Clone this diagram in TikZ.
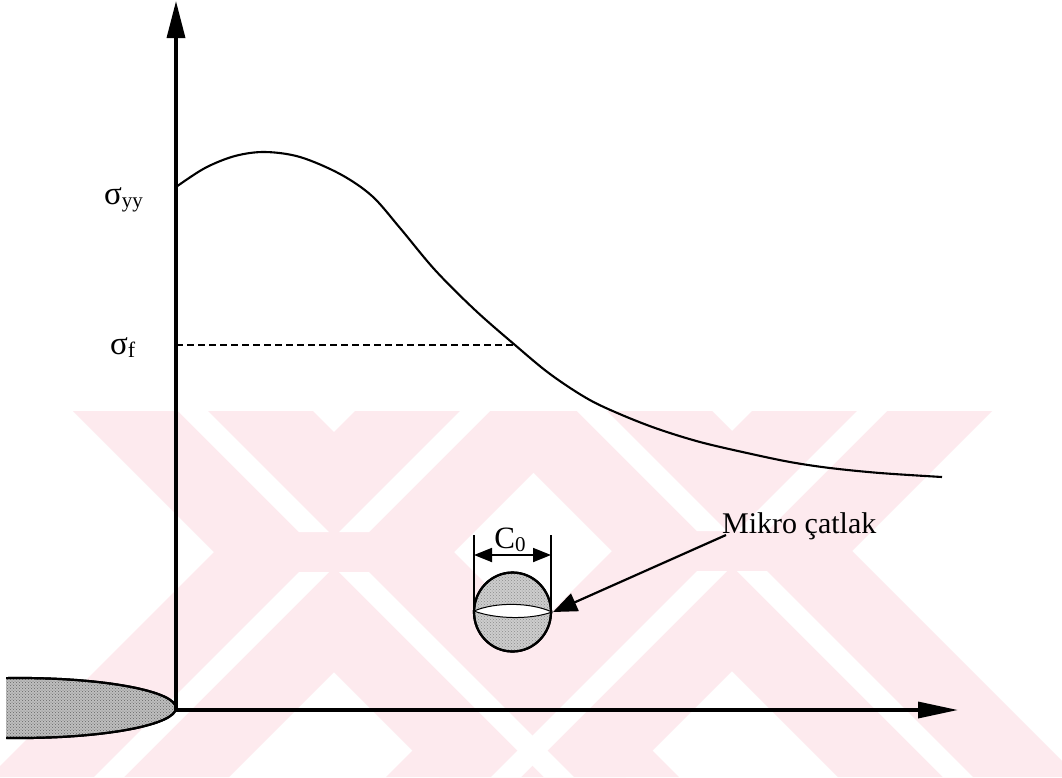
\documentclass[tikz,border=0pt]{standalone}
\usepackage{fontspec}
\setmainfont{Liberation Serif}
\usetikzlibrary{arrows.meta,patterns}
\definecolor{wm}{RGB}{253,234,238}
\definecolor{stipA}{RGB}{190,190,190}
\definecolor{stipB}{RGB}{205,205,205}
\begin{document}
\begin{tikzpicture}[x=1pt,y=-1pt,
  axisline/.style={line width=3.4pt},
  curveline/.style={line width=2.1pt, line join=round},
  dimline/.style={line width=1.8pt},
  ptr/.style={line width=2.2pt, -{Triangle[length=24pt,width=19pt]}},
  dimarrow/.style={line width=1.8pt, {Triangle[length=18pt,width=14pt]}-{Triangle[length=18pt,width=14pt]}},
  lbl/.style={inner sep=0pt, font=\fontsize{30}{32}\selectfont},
  siglbl/.style={inner sep=0pt, font=\fontsize{33}{35}\selectfont},
  stippleA/.style={preaction={fill=stipA}, pattern=crosshatch dots, pattern color=black!60},
  stippleB/.style={preaction={fill=stipB}, pattern=crosshatch dots, pattern color=black!45},
  wmband/.style={fill=wm},
  wmgap/.style={fill=white}]
\useasboundingbox (0,0) rectangle (1062,777);
\fill[white] (0,0) rectangle (1062,777);
% watermark
\begin{scope}
\clip (0,411) rectangle (1062,777);
\fill[wmband] (73,411) -- (313,411) -- (679,777) -- (439,777) -- cycle;
\fill[wmband] (355,411) -- (595,411) -- (229,777) -- (-11,777) -- cycle;
\fill[wmband] (472,411) -- (712,411) -- (1078,777) -- (838,777) -- cycle;
\fill[wmband] (752,411) -- (992,411) -- (626,777) -- (386,777) -- cycle;
\fill[wmgap] (178,411) -- (208,411) -- (329,532) -- (299,532) -- cycle;
\fill[wmgap] (339,572) -- (369,572) -- (574,777) -- (544,777) -- cycle;
\fill[wmgap] (460,411) -- (490,411) -- (369,532) -- (339,532) -- cycle;
\fill[wmgap] (299,572) -- (329,572) -- (124,777) -- (94,777) -- cycle;
\fill[wmgap] (577,411) -- (607,411) -- (727,531) -- (697,531) -- cycle;
\fill[wmgap] (737,571) -- (767,571) -- (973,777) -- (943,777) -- cycle;
\fill[wmgap] (857,411) -- (887,411) -- (767,531) -- (737,531) -- cycle;
\fill[wmgap] (697,571) -- (727,571) -- (521,777) -- (491,777) -- cycle;
\end{scope}
% notch
\begin{scope}
\clip (6,0) rectangle (1062,777);
\draw[line width=2.2pt, stippleA] (20,708) ellipse [x radius=156, y radius=30];
\draw[line width=2.2pt] (20,708) ellipse [x radius=156, y radius=30];
\end{scope}
% axes
\coordinate (O) at (176,710);
\coordinate (ytop) at (176,1);
\coordinate (xend) at (958,710);
\draw[axisline, -{Triangle[length=37pt,width=18pt]}] (O) -- (ytop);
\draw[axisline, -{Triangle[length=40pt,width=16pt]}] (O) -- (xend);
% stress curve
\draw[curveline] plot[smooth, tension=0.55] coordinates {(176,187) (205,168) (235,156) (265,152) (300,157) (340,174) (372,196) (400,228) (435,270) (475,310) (515,345) (550,374) (588,399) (622,415) (658,429) (700,442) (747,453) (790,462) (830,468) (880,473) (942,477)};
% sigma_f dashed line
\coordinate (sfa) at (176,345);
\coordinate (sfb) at (515,345);
\draw[line width=1.3pt, dash pattern=on 7pt off 4pt] (sfa) -- (sfb);
% labels
\node[siglbl, anchor=base west] (syy) at (104,204) {σ{\fontsize{21}{22}\selectfont\raisebox{-3pt}{yy}}};
\node[siglbl, anchor=base west] (sf) at (110,354) {σ{\fontsize{22}{23}\selectfont\raisebox{-3pt}{f}}};
% micro crack
\draw[line width=2.2pt, stippleB] (512.5,612) ellipse [x radius=38.5, y radius=39.5];
\draw[line width=2.2pt] (512.5,612) ellipse [x radius=38.5, y radius=39.5];
\draw[line width=1pt, fill=white] (474,611) .. controls (495,602) and (530,602) .. (552,612) .. controls (530,620) and (495,619) .. (474,611) -- cycle;
\coordinate (el1) at (474,535);
\coordinate (el1b) at (474,611);
\coordinate (el2) at (551,535);
\coordinate (el2b) at (551,611);
\draw[dimline] (el1) -- (el1b);
\draw[dimline] (el2) -- (el2b);
\coordinate (da) at (474,555);
\coordinate (db) at (551,555);
\draw[dimarrow] (da) -- (db);
\node[inner sep=0pt, anchor=base, font=\fontsize{31}{33}\selectfont] (c0) at (510,548) {C{\fontsize{21}{22}\selectfont\raisebox{-3pt}{0}}};
\node[lbl, anchor=base west] (mikro) at (722,533) {Mikro çatlak};
\coordinate (tip) at (553,612);
\draw[ptr] ([shift={(4,2)}]mikro.base west) -- (tip);
\end{tikzpicture}
\end{document}
